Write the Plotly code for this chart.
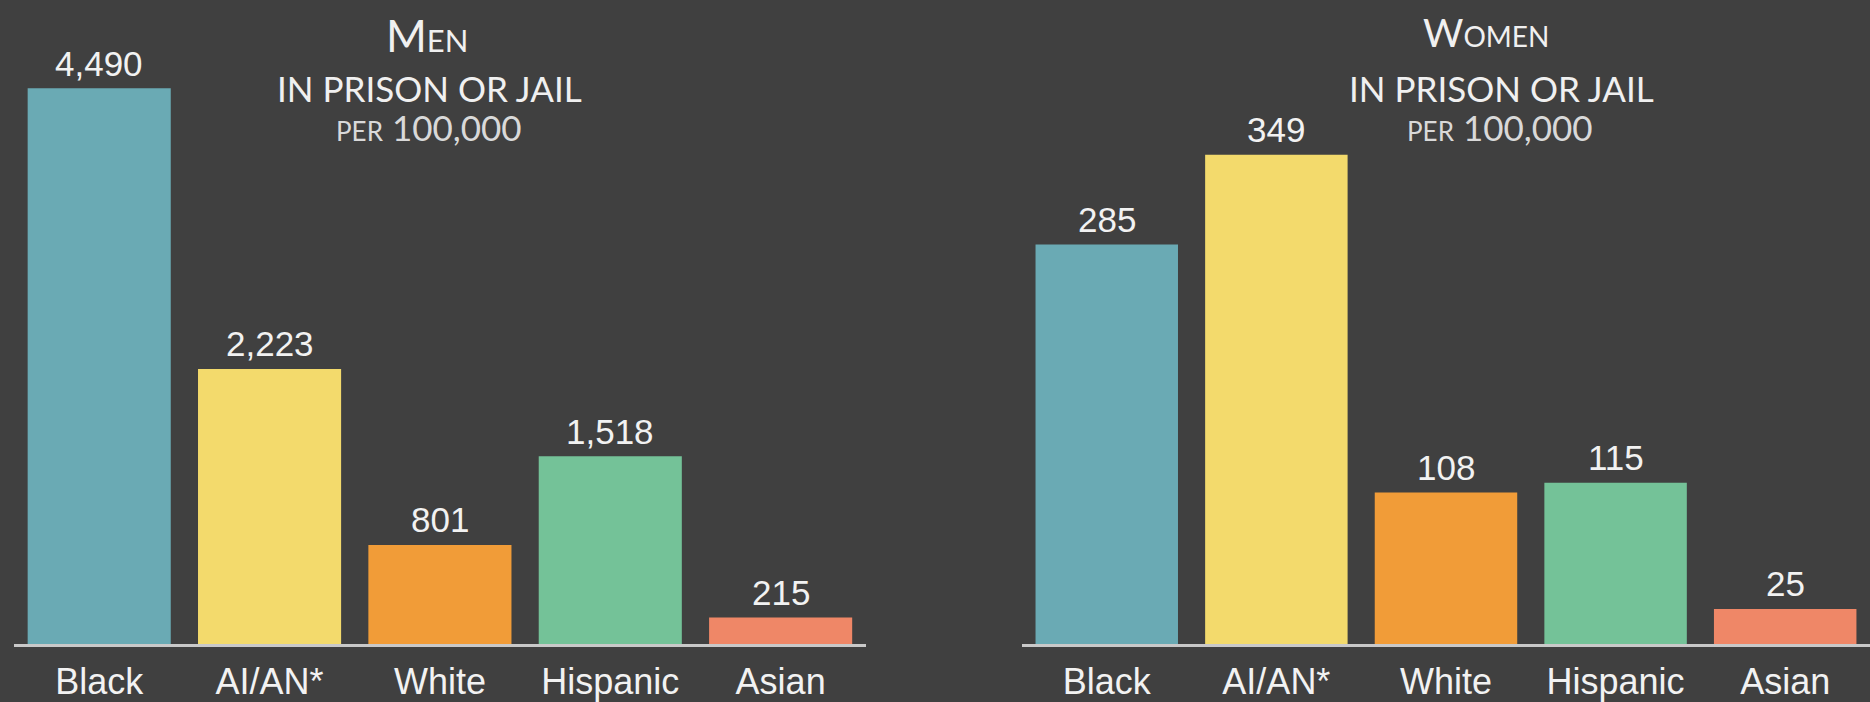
import plotly.graph_objects as go

categories = ["Black", "AI/AN*", "White", "Hispanic", "Asian"]
men_values = [4490, 2223, 801, 1518, 215]
women_values = [285, 349, 108, 115, 25]
bar_colors = ["#6aaab4", "#f3da6c", "#f19c38", "#74c298", "#ef8767"]

BG = "#404040"
TXT = "#f2f2f2"
NUM_FONT = "Liberation Sans, Arial, sans-serif"
PLOT_H = 660

fig = go.Figure()
fig.add_trace(go.Bar(
    x=categories, y=men_values, marker=dict(color=bar_colors, line=dict(width=0)),
    xaxis="x", yaxis="y", hoverinfo="skip",
))
fig.add_trace(go.Bar(
    x=categories, y=women_values, marker=dict(color=bar_colors, line=dict(width=0)),
    xaxis="x2", yaxis="y2", hoverinfo="skip",
))

# value labels above bars, positioned through the axes
for cat, val in zip(categories, men_values):
    fig.add_annotation(x=cat, y=val, xref="x", yref="y", text=f"{val:,}", showarrow=False,
                       yanchor="middle", yshift=25, font=dict(family=NUM_FONT, size=35, color=TXT))
for cat, val in zip(categories, women_values):
    fig.add_annotation(x=cat, y=val, xref="x2", yref="y2", text=f"{val:,}", showarrow=False,
                       yanchor="middle", yshift=25, font=dict(family=NUM_FONT, size=35, color=TXT))

axis_common = dict(
    showgrid=False, zeroline=False, showline=True, linecolor="#c9c9c9", linewidth=3,
    ticks="", tickfont=dict(family=NUM_FONT, size=36, color=TXT),
    ticklabelstandoff=4, fixedrange=True,
)
yaxis_common = dict(showgrid=False, zeroline=False, showline=False, showticklabels=False, fixedrange=True)

fig.update_layout(
    width=1870, height=702,
    paper_bgcolor=BG, plot_bgcolor=BG,
    margin=dict(l=0, r=0, t=0, b=702 - PLOT_H),
    showlegend=False, bargap=0.16,
    xaxis=dict(domain=[0.0075, 0.463], range=[-0.5, 4.5], anchor="y", **axis_common),
    yaxis=dict(domain=[0, 1], range=[0, 5204], anchor="x", **yaxis_common),
    xaxis2=dict(domain=[0.5465, 1.0], range=[-0.5, 4.5], anchor="y2", **axis_common),
    yaxis2=dict(domain=[0, 1], range=[0, 459.4], anchor="x2", **yaxis_common),
)

title_font = "Lato, Liberation Sans, sans-serif"
titles = [
    (427, 36, "M<span style='font-size:31px'>EN</span>", 44, "#f0f0f0"),
    (1486, 33, "W<span style='font-size:28px'>OMEN</span>", 39, "#f0f0f0"),
    (429, 90, "IN PRISON OR JAIL", 35, "#f0f0f0"),
    (1501, 90, "IN PRISON OR JAIL", 35, "#f0f0f0"),
    (429, 130, "<span style='font-size:26px'>PER</span> 100,000", 35, "#d9d9d9"),
    (1500, 130, "<span style='font-size:26px'>PER</span> 100,000", 35, "#d9d9d9"),
]
for x, y, txt, size, col in titles:
    fig.add_annotation(
        x=x / 1870, y=1 - y / PLOT_H, xref="paper", yref="paper",
        text=txt, showarrow=False, xanchor="center", yanchor="middle",
        font=dict(family=title_font, size=size, color=col),
    )

fig.write_html("out.html")
